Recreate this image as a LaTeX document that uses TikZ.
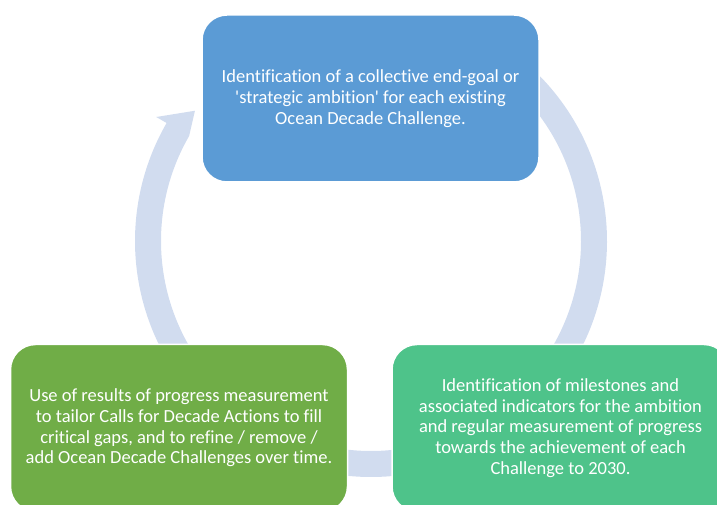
\documentclass[tikz,border=0pt]{standalone}
\usepackage{fontspec}
\newfontfamily\boxfont{Carlito}[Ligatures={NoCommon}]
\usetikzlibrary{positioning}
\definecolor{boxblue}{RGB}{91,155,213}
\definecolor{boxgreen}{RGB}{112,173,71}
\definecolor{boxteal}{RGB}{78,195,138}
\definecolor{ringblue}{RGB}{209,220,239}

\begin{document}
\begin{tikzpicture}[x=1pt,y=1pt,
    box/.style={rectangle,rounded corners=25pt,draw=white,line width=1.5pt,
      text=white,align=center,font=\boxfont\fontsize{18.5}{20.7}\selectfont,
      minimum width=337pt,minimum height=167pt,inner sep=0pt},
    ring/.style={fill=ringblue}]
  \useasboundingbox (0,0) rectangle (717,505);
  \coordinate (c) at (371,264);

  \begin{scope}[shift={(c)}]
    \fill[ring] (215:236) arc[start angle=215,end angle=150,radius=236]
      -- (150:248) -- (143.5:219) -- (150:210)
      arc[start angle=150,end angle=215,radius=210] -- cycle;
    \fill[ring] (50:236) arc[start angle=50,end angle=-35,radius=236]
      -- (-35:210) arc[start angle=-35,end angle=50,radius=210] -- cycle;
    \fill[ring] (-60:236) arc[start angle=-60,end angle=-120,radius=236]
      -- (-120:210) arc[start angle=-120,end angle=-60,radius=210] -- cycle;
  \end{scope}

  \node[box,fill=boxblue]  (amb) at (370.5,406.5)
    {Identification of a collective end-goal or\\'strategic ambition' for each existing\\Ocean Decade Challenge.};
  \node[box,fill=boxteal]  (mil) at (560.5,77)
    {Identification of milestones and\\associated indicators for the ambition\\and regular measurement of progress\\towards the achievement of each\\Challenge to 2030.};
  \node[box,fill=boxgreen] (use) [left=43pt of mil]
    {Use of results of progress measurement\\to tailor Calls for Decade Actions to fill\\critical gaps, and to refine / remove /\\add Ocean Decade Challenges over time.};
\end{tikzpicture}
\end{document}
